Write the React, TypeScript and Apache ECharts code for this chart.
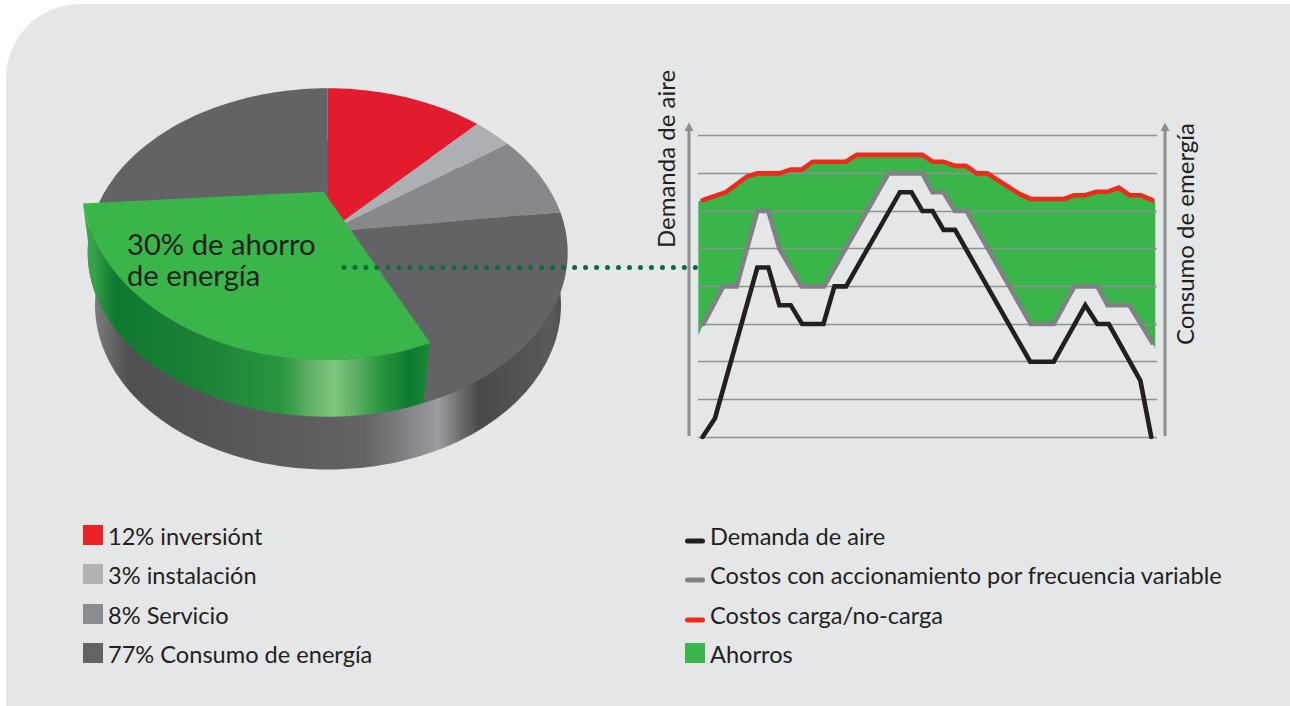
import React, { useEffect, useRef } from "react";
import * as echarts from "echarts";

// Pie shares, in percent, clockwise from the top of the disc
const pieNames = ["inversiónt", "instalación", "Servicio", "Consumo de energía"];
const pieShares = [12, 3, 8, 77];
const pieColors = ["#e31b2e", "#aeafb3", "#87888c", "#636365"];
const savingsShare = 30;
const savingsStart = 43;

// Line chart values: [time, level]
const demandLine = [[0.4,0],[1.48,0.5],[5.17,4.5],[6.13,4.5],[7.09,3.5],[8.08,3.5],[9.07,3],[10.93,3],[11.89,4],[12.9,4],[17.6,6.5],[18.6,6.5],[19.55,6],[20.44,6],[21.4,5.5],[22.4,5.5],[28.95,2],[31,2],[33.75,3.5],[34.8,3],[35.8,3],[38.55,1.5],[39.5,0]];
const vfdLine = [[0.47,3],[2.2,4],[3.37,4],[5.17,6],[6.13,6],[7.09,5],[9.04,4],[10.99,4],[16.6,7],[19.55,7],[20.44,6.5],[21.4,6.5],[22.4,6],[23.4,6],[29,3],[31,3],[32.8,4],[34.8,4],[35.7,3.5],[37.6,3.5],[39.6,2.5]];
const loadLine = [[0.4,6.29],[2.44,6.5],[4.24,6.91],[5.17,7],[7.09,7],[8.08,7.1],[9.04,7.1],[10,7.31],[12.88,7.31],[13.84,7.49],[19.55,7.49],[20.44,7.31],[21.4,7.31],[22.4,7.2],[23.35,7.2],[24.3,7],[25.2,7],[28.1,6.44],[29,6.32],[31.9,6.32],[32.8,6.42],[33.75,6.42],[34.7,6.51],[35.7,6.51],[36.66,6.62],[37.6,6.42],[38.6,6.42],[39.6,6.29]];
const savingsLeftEnds = [[0.03,2.7],[0.03,6.25]];
const savingsRightEnds = [[39.85,6.25],[39.85,2.35]];

const leftLegend = ["12% inversiónt", "3% instalación", "8% Servicio", "77% Consumo de energía"];
const leftLegendColors = ["#ed2224", "#b1b2b4", "#8b8c8f", "#636466"];
const rightLegend = ["Demanda de aire", "Costos con accionamiento por frecuencia variable", "Costos carga/no-carga", "Ahorros"];
const rightLegendColors = ["#231f20", "#808184", "#ee2a1b", "#39b54a"];

const FONT = "Lato";
const INK = "#231f20";

// The disc is a circle seen in perspective: its centre lies above the ellipse's centre
const disc = { cx: 327.7, cy: 252.5, rx: 240, ry: 164.2, a: 0.123 };
function discPoint(sharePct: number): number[] {
  const t = (sharePct / 100) * Math.PI * 2;
  const u = Math.sin(t), v = Math.cos(t);
  const den = 1 + disc.a * v;
  const xe = (u * Math.sqrt(1 - disc.a * disc.a)) / den;
  const ye = (v + disc.a) / den;
  return [disc.cx + disc.rx * xe, disc.cy - disc.ry * ye];
}
const apex = [disc.cx, disc.cy - disc.a * disc.ry];
function arc(from: number, to: number, point = discPoint): number[][] {
  const n = Math.max(2, Math.ceil(Math.abs(to - from) * 2));
  const out: number[][] = [];
  for (let i = 0; i <= n; i++) out.push(point(from + ((to - from) * i) / n));
  return out;
}
// The savings slice is lifted out of the disc and has an ellipse of its own
function facePoint(sharePct: number): number[] {
  const t = (sharePct / 100) * Math.PI * 2;
  return [326 + 245 * Math.sin(t), 181 - 179 * Math.cos(t)];
}
const faceApex = [323.7, 191.7];

const vGrad = (x0: number, x1: number, stops: [number, string][]) =>
  new echarts.graphic.LinearGradient(x0, 0, x1, 0, stops.map(([offset, color]) => ({ offset, color })), true);

function text(t: string, x: number, y: number, size: number, extra: any = {}) {
  return {
    type: "text", x, y, z: 10, silent: true, ...extra,
    style: { text: t, fill: INK, font: `${size}px ${FONT}`, verticalAlign: "middle", textVerticalAlign: "middle", textAlign: "left", ...(extra.style || {}) },
  };
}
function arrow(x: number) {
  return [
    { type: "line", z: 5, silent: true, shape: { x1: x, y1: 436, x2: x, y2: 130 }, style: { stroke: "#8d8e90", lineWidth: 3 } },
    { type: "polygon", z: 5, silent: true, shape: { points: [[x, 122.5], [x + 4.5, 131], [x - 4.5, 131]] }, style: { fill: "#8d8e90" } },
  ];
}

export default function App() {
  const ref = useRef<HTMLDivElement>(null);
  useEffect(() => {
    const chart = echarts.init(ref.current!, null, { renderer: "svg" });
    const savingsPolygon = [...savingsLeftEnds, ...loadLine, ...savingsRightEnds, ...[...vfdLine].reverse()];
    const lineSeries = (name: string, data: number[][], color: string, z: number) => ({
      name, type: "line", data, z, symbol: "none", silent: true,
      lineStyle: { color, width: 4.6, cap: "round", join: "miter" },
    });
    const legendRowsY = [536, 575, 615, 654];
    const graphicEls: any[] = [
      ...arrow(689),
      ...arrow(1165),
      text("Demanda de aire", 665, 159, 24, { rotation: Math.PI / 2, style: { textAlign: "center" } }),
      text("Consumo de emergía", 1184, 234, 24, { rotation: Math.PI / 2, style: { textAlign: "center" } }),
      text("30% de ahorro\nde energía", 127, 258.5, 29.2, { style: { lineHeight: 31 } }),
      { type: "line", z: 9, silent: true, shape: { x1: 344, y1: 267.5, x2: 697, y2: 267.5 },
        style: { stroke: "#0b6b3d", lineWidth: 5, lineCap: "round", lineDash: [0.01, 10.97] } },
    ];
    leftLegend.forEach((t, i) => {
      graphicEls.push({ type: "rect", z: 10, silent: true, shape: { x: 83, y: legendRowsY[i] - 11, width: 20, height: 20 }, style: { fill: leftLegendColors[i] } });
      graphicEls.push(text(t, 108, legendRowsY[i], 23.6));
    });
    rightLegend.forEach((t, i) => {
      if (i < 3) {
        graphicEls.push({ type: "rect", z: 10, silent: true, shape: { x: 685, y: legendRowsY[i] + 2.5, width: 20, height: 5, r: 2.5 }, style: { fill: rightLegendColors[i] } });
      } else {
        graphicEls.push({ type: "rect", z: 10, silent: true, shape: { x: 685, y: 643, width: 20, height: 20 }, style: { fill: rightLegendColors[i] } });
      }
      graphicEls.push(text(t, 710, legendRowsY[i], 23.6));
    });

    chart.setOption({
      animation: false,
      grid: { left: 698, width: 459, top: 135.7, height: 301.3, containLabel: false },
      xAxis: { type: "value", min: 0, max: 40, show: true, axisLine: { show: false }, axisTick: { show: false }, axisLabel: { show: false }, splitLine: { show: false } },
      yAxis: {
        type: "value", min: 0, max: 8, interval: 1, z: 3,
        axisLine: { show: false }, axisTick: { show: false }, axisLabel: { show: false },
        splitLine: { show: true, lineStyle: { color: "#8f9193", width: 1.3 } },
      },
      graphic: { elements: graphicEls },
      series: [
        {
          name: "Ahorros", type: "custom", coordinateSystem: "cartesian2d", z: 1, silent: true, clip: false,
          data: savingsPolygon, encode: { x: 0, y: 1 },
          renderItem: (params: any, api: any) => {
            if (params.dataIndex !== 0) return null;
            return { type: "polygon", shape: { points: savingsPolygon.map((p) => api.coord(p)) }, style: { fill: rightLegendColors[3] } };
          },
        },
        lineSeries("Costos con accionamiento por frecuencia variable", vfdLine, rightLegendColors[1], 4),
        lineSeries("Costos carga/no-carga", loadLine, rightLegendColors[2], 4),
        lineSeries("Demanda de aire", demandLine, rightLegendColors[0], 4),
        {
          name: "Lateral", type: "custom", coordinateSystem: "none", z: 1, silent: true, data: [100],
          renderItem: () => {
            const pts: number[][] = [];
            for (let i = 0; i < 180; i++) {
              const t = (i / 180) * Math.PI * 2;
              pts.push([328 + 233 * Math.cos(t), 305 + 164.5 * Math.sin(t)]);
            }
            return {
              type: "polygon", shape: { points: pts },
              style: { fill: vGrad(94, 564, [
                [0, "#7d7d80"], [0.05, "#5e5e60"], [0.08, "#4f4f51"], [0.575, "#636365"], [0.65, "#7c7d80"],
                [0.733, "#9b9c9f"], [0.783, "#6a6a6d"], [0.82, "#49494b"], [0.97, "#5a5a5c"], [1, "#4e4e50"],
              ]) },
            };
          },
        },
        {
          name: "Costos", type: "custom", coordinateSystem: "none", z: 2, silent: true,
          data: pieShares.map((value, i) => ({ name: pieNames[i], value })),
          renderItem: (params: any) => {
            const i = params.dataIndex;
            const from = pieShares.slice(0, i).reduce((s, v) => s + v, 0);
            const to = from + pieShares[i];
            return { type: "polygon", shape: { points: [apex, ...arc(from, to)] }, style: { fill: pieColors[i] } };
          },
        },
        {
          name: "Ahorro lateral", type: "custom", coordinateSystem: "none", z: 3, silent: true, data: [savingsShare],
          renderItem: () => {
            const face = arc(savingsStart, savingsStart + savingsShare, facePoint);
            const lower = arc(44.2, 74).reverse();
            return {
              type: "polygon", shape: { points: [...face, ...lower] },
              style: { fill: vGrad(83, 431, [
                [0, "#3aa84a"], [0.03, "#36a248"], [0.09, "#0f7a30"], [0.32, "#1c8035"], [0.57, "#2a963f"],
                [0.63, "#52a95c"], [0.72, "#82c67e"], [0.8, "#52aa5c"], [0.855, "#2a963f"], [0.94, "#0d7a30"], [1, "#1d8c37"],
              ]) },
            };
          },
        },
        {
          name: "Ahorro", type: "custom", coordinateSystem: "none", z: 4, silent: true, data: [savingsShare],
          renderItem: () => ({
            type: "polygon",
            shape: { points: [faceApex, ...arc(savingsStart, savingsStart + savingsShare, facePoint)] },
            style: { fill: rightLegendColors[3] },
          }),
        },
      ],
    });
    return () => chart.dispose();
  }, []);
  return (
    <div style={{ position: "fixed", left: 0, top: 0, width: 1290, height: 706, background: "#fff", overflow: "hidden" }}>
      <div style={{ position: "absolute", left: 6, top: 4, width: 1300, height: 720, background: "#e5e6e8", borderTopLeftRadius: 74 }} />
      <div ref={ref} style={{ position: "absolute", left: 0, top: 0, width: 1290, height: 706 }} />
    </div>
  );
}
